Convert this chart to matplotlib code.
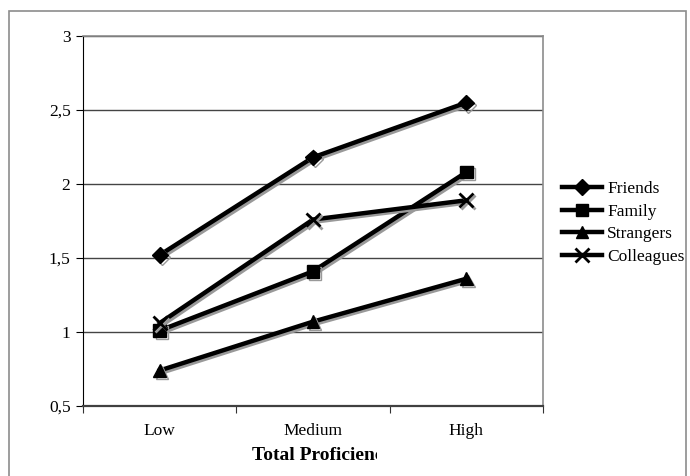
import matplotlib
matplotlib.use("Agg")
import matplotlib.pyplot as plt
import matplotlib.patheffects as pe
from matplotlib.patches import Rectangle
from matplotlib.ticker import FuncFormatter
from matplotlib.transforms import Bbox

# ---- data ----
levels = ["Low", "Medium", "High"]
friends = [1.52, 2.18, 2.55]
family = [1.01, 1.41, 2.08]
strangers = [0.74, 1.07, 1.36]
colleagues = [1.06, 1.76, 1.89]
y_ticks = [0.5, 1, 1.5, 2, 2.5, 3]

plt.rcParams["font.family"] = ["Liberation Serif", "DejaVu Serif"]
plt.rcParams["font.size"] = 12.5

fig = plt.figure(figsize=(6.9, 4.76), dpi=100)
W, H = 690.0, 476.0

# outer chart frame (runs past the bottom of the crop)
fig.patches.append(Rectangle((9 / W, -0.1), 677 / W, 1.1 - 11 / H,
                             transform=fig.transFigure, fill=False,
                             edgecolor="#8c8c8c", linewidth=1.2))

ax = fig.add_axes([83 / W, 1 - 406 / H, 460 / W, 370 / H])

x = list(range(len(levels)))
shadow = [pe.SimpleLineShadow(offset=(1.5, -1.5), shadow_color="#999999", alpha=1.0),
          pe.Normal()]

series = [
    ("Friends", friends, "D", 8),
    ("Family", family, "s", 9),
    ("Strangers", strangers, "^", 9),
    ("Colleagues", colleagues, "x", 10),
]
for name, vals, marker, ms in series:
    ax.plot(x, vals, color="black", linewidth=3.2, marker=marker, markersize=ms,
            markeredgewidth=2 if marker == "x" else 1, label=name,
            path_effects=shadow, zorder=3)

ax.set_xlim(-0.5, 2.5)
ax.set_ylim(0.5, 3)
ax.set_yticks(y_ticks)
ax.yaxis.set_major_formatter(FuncFormatter(lambda v, p: f"{v:g}".replace(".", ",")))
ax.yaxis.grid(True, color="#444444", linewidth=1)
ax.set_axisbelow(True)

# category boundary ticks, labels in the middle
ax.set_xticks([-0.5, 0.5, 1.5, 2.5])
ax.set_xticklabels([])
ax.set_xticks(x, minor=True)
ax.set_xticklabels(levels, minor=True)
ax.tick_params(axis="x", which="major", length=5, direction="out", color="#333333")
ax.tick_params(axis="x", which="minor", length=0, pad=12)
ax.tick_params(axis="y", length=5, direction="out", pad=4)

for side in ["top", "right"]:
    ax.spines[side].set_color("#8c8c8c")
    ax.spines[side].set_linewidth(1.2)
ax.spines["left"].set_color("black")
ax.spines["bottom"].set_color("#404040")
ax.spines["bottom"].set_linewidth(1.6)

leg = ax.legend(loc="center left", bbox_to_anchor=(555 / W, 1 - 223 / H),
                bbox_transform=fig.transFigure, frameon=False,
                handlelength=2.3, handletextpad=0.3, labelspacing=0.38,
                borderaxespad=0)
for h in leg.legend_handles:
    h.set_path_effects([])

# axis title, cut off on the right as in the source crop
t = fig.text(252 / W, 1 - 455 / H, "Total Proficiency", fontweight="bold",
             fontsize=14, ha="left", va="center")
t.set_clip_box(Bbox.from_extents(0, 0, 377, H))
t.set_clip_on(True)

fig.savefig("out.png", dpi=100)
